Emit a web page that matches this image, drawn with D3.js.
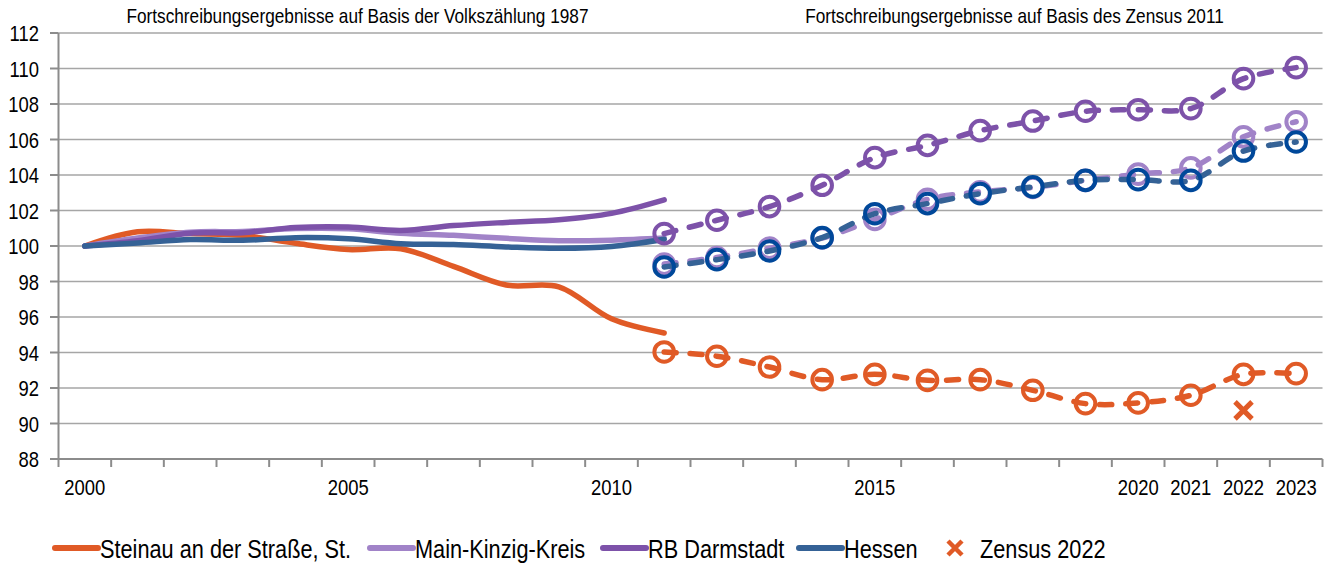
<!DOCTYPE html>
<html>
<head>
<meta charset="utf-8">
<script src="https://cdn.jsdelivr.net/npm/d3@7"></script>
<style>
	body { margin: 0; background: #fff; }
	svg { display: block; }
	text { font-family: "Liberation Sans", Arial, sans-serif; fill: #000; }
</style>
</head>
<body>
<svg id="chart" width="1333" height="565"></svg>
<script>
// --- DATA --- //
var allYears = [2000, 2001, 2002, 2003, 2004, 2005, 2006, 2007, 2008, 2009, 2010, 2011,
	2012, 2013, 2014, 2015, 2016, 2017, 2018, 2019, 2020, 2021, 2022, 2023];
var yearLabels = [2000, 2005, 2010, 2015, 2020, 2021, 2022, 2023];
var yTicks = [88, 90, 92, 94, 96, 98, 100, 102, 104, 106, 108, 110, 112];

// Volkszählung 1987 basis (solid)
var yearsA = [2000, 2001, 2002, 2003, 2004, 2005, 2006, 2007, 2008, 2009, 2010, 2011];
var steinauA = [100, 100.8, 100.7, 100.6, 100.15, 99.8, 99.85, 98.85, 97.8, 97.7, 95.9, 95.1];
var mkkA = [100, 100.45, 100.78, 100.82, 100.98, 100.97, 100.72, 100.6, 100.43, 100.3, 100.33, 100.45];
var rbA = [100, 100.3, 100.72, 100.75, 101.04, 101.07, 100.88, 101.15, 101.33, 101.48, 101.84, 102.6];
var hessenA = [100, 100.17, 100.36, 100.32, 100.47, 100.41, 100.13, 100.08, 99.95, 99.87, 99.97, 100.38];

// Zensus 2011 basis (dashed with markers)
var yearsB = [2011, 2012, 2013, 2014, 2015, 2016, 2017, 2018, 2019, 2020, 2021, 2022, 2023];
var steinauB = [94.03, 93.79, 93.18, 92.47, 92.77, 92.43, 92.47, 91.87, 91.12, 91.16, 91.59, 92.77, 92.81];
var mkkB = [98.98, 99.35, 99.88, 100.45, 101.5, 102.63, 103.05, 103.3, 103.7, 104.05, 104.4, 106.15, 107.0];
var rbB = [100.7, 101.45, 102.22, 103.42, 104.98, 105.67, 106.5, 107.04, 107.59, 107.68, 107.74, 109.43, 110.05];
var hessenB = [98.82, 99.23, 99.72, 100.47, 101.82, 102.39, 102.95, 103.33, 103.7, 103.74, 103.7, 105.35, 105.86];

var zensusYears = [2022];
var zensusValues = [90.74];

var seriesNames = ["Steinau an der Straße, St.", "Main-Kinzig-Kreis", "RB Darmstadt", "Hessen"];
var periodTitles = ["Fortschreibungsergebnisse auf Basis der Volkszählung 1987",
	"Fortschreibungsergebnisse auf Basis des Zensus 2011"];

// --- SETUP --- //
var svg = d3.select("#chart"),
	plotL = 58.5, plotR = 1322.5, plotT = 33, plotB = 459,
	narrow = "scale(0.82,1)";   // Arial Narrow look

var lineColors = ["#E05A26", "#A183C8", "#7D52A9", "#356296"],
	markerColors = ["#E05A26", "#A183C8", "#7D52A9", "#00489A"];

var x = d3.scaleBand().domain(allYears).range([plotL, plotR]).padding(0);
var y = d3.scaleLinear().domain([88, 112]).range([plotB, plotT]);
function cx(yr) { return x(yr) + x.bandwidth() / 2; }

// --- GRID --- //
svg.append("g").selectAll("line").data(yTicks.slice(1)).enter().append("line")
	.attr("x1", plotL).attr("x2", plotR)
	.attr("y1", function(d) { return y(d); }).attr("y2", function(d) { return y(d); })
	.attr("stroke", "#A6A6A6").attr("stroke-width", 1.5);

// --- AXES --- //
var axisCol = "#8C8C8C";
svg.append("line").attr("x1", plotL).attr("x2", plotL).attr("y1", plotT).attr("y2", plotB)
	.attr("stroke", axisCol).attr("stroke-width", 2);
svg.append("line").attr("x1", plotL - 1).attr("x2", plotR).attr("y1", plotB).attr("y2", plotB)
	.attr("stroke", axisCol).attr("stroke-width", 2);

// y ticks + labels
svg.append("g").selectAll("line").data(yTicks).enter().append("line")
	.attr("x1", 50).attr("x2", plotL)
	.attr("y1", function(d) { return y(d); }).attr("y2", function(d) { return y(d); })
	.attr("stroke", axisCol).attr("stroke-width", 2);
svg.append("g").selectAll("text").data(yTicks).enter().append("text")
	.attr("transform", function(d) { return "translate(39," + y(d) + ")" + narrow; })
	.attr("dy", "0.36em")
	.attr("text-anchor", "end")
	.attr("font-size", "22.5px")
	.text(function(d) { return d; });

// x ticks at the category edges
var edges = allYears.map(function(d) { return x(d); }).concat([plotR]);
svg.append("g").selectAll("line").data(edges).enter().append("line")
	.attr("x1", function(d) { return d; }).attr("x2", function(d) { return d; })
	.attr("y1", plotB).attr("y2", plotB + 8)
	.attr("stroke", axisCol).attr("stroke-width", 2);
svg.append("g").selectAll("text").data(yearLabels).enter().append("text")
	.attr("transform", function(d) { return "translate(" + cx(d) + ",495)" + narrow; })
	.attr("text-anchor", "middle")
	.attr("font-size", "22.5px")
	.text(function(d) { return d; });

// period titles
var titleX = [357.5, 1014.5];
svg.append("g").selectAll("text").data(periodTitles).enter().append("text")
	.attr("transform", function(d, i) { return "translate(" + titleX[i] + ",23)" + narrow; })
	.attr("text-anchor", "middle")
	.attr("font-size", "21px")
	.text(function(d) { return d; });

// --- LINES --- //
var line = d3.line()
	.x(function(d) { return cx(d[0]); })
	.y(function(d) { return y(d[1]); })
	.curve(d3.curveCatmullRom.alpha(0.5));

function pairs(years, vals) { return years.map(function(yr, i) { return [yr, vals[i]]; }); }

var solid = [steinauA, mkkA, rbA, hessenA],
	dashed = [steinauB, mkkB, rbB, hessenB];

solid.forEach(function(vals, i) {
	svg.append("path")
		.datum(pairs(yearsA, vals))
		.attr("d", line)
		.attr("fill", "none")
		.attr("stroke", lineColors[i])
		.attr("stroke-width", 5.5)
		.attr("stroke-linecap", "round");
});

dashed.forEach(function(vals, i) {
	var pts = pairs(yearsB, vals);
	svg.append("path")
		.datum(pts)
		.attr("d", line)
		.attr("fill", "none")
		.attr("stroke", lineColors[i])
		.attr("stroke-width", 5.5)
		.attr("stroke-linecap", "round")
		.attr("stroke-dasharray", "12,14");
	svg.append("g").selectAll("circle").data(pts).enter().append("circle")
		.attr("cx", function(d) { return cx(d[0]); })
		.attr("cy", function(d) { return y(d[1]); })
		.attr("r", 9.8)
		.attr("fill", "none")
		.attr("stroke", markerColors[i])
		.attr("stroke-width", 4);
});

// Zensus 2022 cross
function cross(sel, px, py, h, w) {
	sel.append("path")
		.attr("d", "M" + (px - h) + "," + (py - h) + "L" + (px + h) + "," + (py + h) +
			"M" + (px - h) + "," + (py + h) + "L" + (px + h) + "," + (py - h))
		.attr("stroke", lineColors[0]).attr("stroke-width", w).attr("fill", "none");
}
zensusYears.forEach(function(yr, i) { cross(svg, cx(yr), y(zensusValues[i]), 8.5, 5); });

// --- LEGEND --- //
var legY = 548,
	swatchX = [55, 370, 603, 799],
	legend = svg.append("g");
seriesNames.forEach(function(name, i) {
	legend.append("line")
		.attr("x1", swatchX[i]).attr("x2", swatchX[i] + 43)
		.attr("y1", legY).attr("y2", legY)
		.attr("stroke", lineColors[i]).attr("stroke-width", 6).attr("stroke-linecap", "round");
	legend.append("text")
		.attr("transform", "translate(" + (swatchX[i] + 45) + "," + legY + ")" + narrow)
		.attr("dy", "0.36em")
		.attr("font-size", "26.5px")
		.text(name);
});
cross(legend, 955, legY, 7, 4.5);
legend.append("text")
	.attr("transform", "translate(980," + legY + ")" + narrow)
	.attr("dy", "0.36em")
	.attr("font-size", "26.5px")
	.text("Zensus 2022");
</script>
</body>
</html>
